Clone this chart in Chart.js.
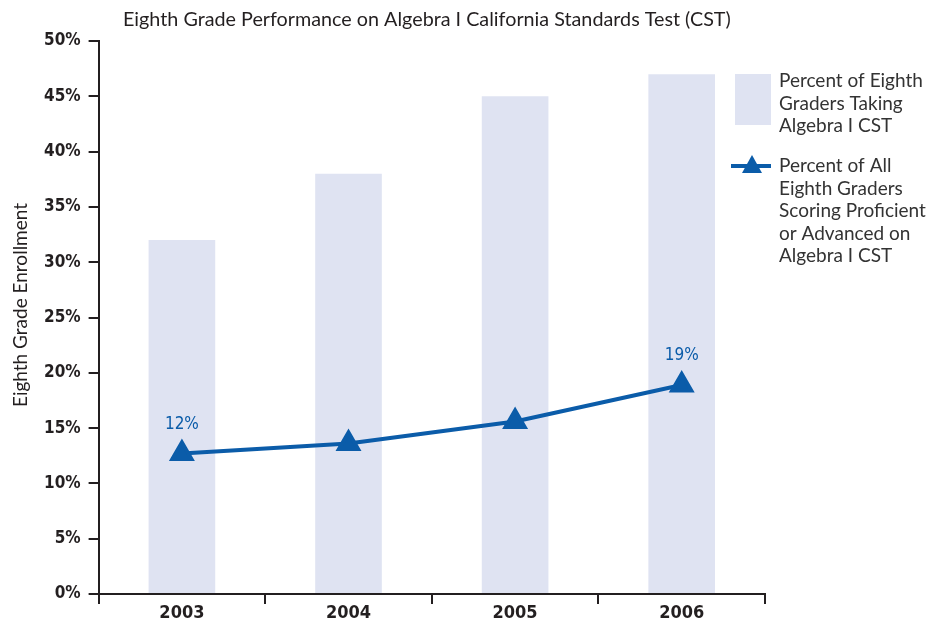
<!DOCTYPE html>
<html><head><meta charset="utf-8">
<script src="https://cdn.jsdelivr.net/npm/chart.js@4/dist/chart.umd.min.js"></script>
<style>html,body{margin:0;padding:0;background:#fff}#wrap{width:945px;height:622px;position:relative}</style>
</head><body><div id="wrap"><canvas id="c" width="945" height="622"></canvas></div>
<script>
const categories = ['2003','2004','2005','2006'];
const takingValues = [32, 38, 45, 47];
const proficientValues = [12.7, 13.6, 15.6, 18.9];
const pointLabels = ['12%', '', '', '19%'];
const yTicks = [0,5,10,15,20,25,30,35,40,45,50];
const titleText = 'Eighth Grade Performance on Algebra I California Standards Test (CST)';
const yTitle = 'Eighth Grade Enrollment';
const legendBar = ['Percent of Eighth','Graders Taking','Algebra I CST'];
const legendLine = ['Percent of All','Eighth Graders','Scoring Proficient','or Advanced on','Algebra I CST'];

const BAR = '#dfe3f2', LINE = '#0b5ca9', INK = '#231f20';
const humanist = '"Lato", "Open Sans", sans-serif';
const narrow = '"Liberation Sans Narrow", "DejaVu Sans Condensed", "Roboto Condensed", sans-serif';

function fitFont(ctx, text, width, family, weight) {
  let size = 10;
  for (let s = 10; s <= 30; s += 0.25) {
    ctx.font = (weight || '') + ' ' + s + 'px ' + family;
    if (ctx.measureText(text).width <= width) size = s; else break;
  }
  ctx.font = (weight || '') + ' ' + size + 'px ' + family;
  return size;
}

const extras = {
  id: 'extras',
  afterDraw(chart) {
    const ctx = chart.ctx;
    ctx.save();
    // title
    ctx.fillStyle = INK;
    fitFont(ctx, titleText, 615, humanist);
    ctx.textAlign = 'left'; ctx.textBaseline = 'middle';
    ctx.fillText(titleText, 123, 20);
    // y title
    ctx.save();
    ctx.translate(21, 305);
    ctx.rotate(-Math.PI/2);
    ctx.textAlign = 'center';
    fitFont(ctx, yTitle, 205, humanist);
    ctx.fillText(yTitle, 0, 0);
    ctx.restore();
    // point labels
    const meta = chart.getDatasetMeta(1);
    ctx.fillStyle = LINE;
    ctx.font = '17px ' + narrow;
    ctx.textAlign = 'center';
    meta.data.forEach((pt, i) => {
      if (pointLabels[i]) ctx.fillText(pointLabels[i], pt.x, pt.y - 29);
    });
    // legend
    ctx.fillStyle = BAR;
    ctx.fillRect(735, 74, 36, 51);
    ctx.fillStyle = '#333';
    fitFont(ctx, legendBar[0], 144, humanist);
    ctx.textAlign = 'left';
    legendBar.forEach((t, i) => ctx.fillText(t, 779, 81 + i*22.5));
    ctx.strokeStyle = LINE; ctx.lineWidth = 4;
    ctx.beginPath(); ctx.moveTo(731, 166); ctx.lineTo(771, 166); ctx.stroke();
    ctx.fillStyle = LINE;
    ctx.beginPath(); ctx.moveTo(752, 155); ctx.lineTo(762, 173); ctx.lineTo(742, 173); ctx.closePath(); ctx.fill();
    ctx.fillStyle = '#333';
    legendLine.forEach((t, i) => ctx.fillText(t, 779, 166 + i*22.5));
    ctx.restore();
  }
};

new Chart(document.getElementById('c'), {
  data: {
    labels: categories,
    datasets: [
      { type: 'bar', label: legendBar.join(' '), data: takingValues, backgroundColor: BAR,
        barPercentage: 0.4, categoryPercentage: 1.0, order: 2 },
      { type: 'line', label: legendLine.join(' '), data: proficientValues, borderColor: LINE,
        backgroundColor: LINE, borderWidth: 4, pointStyle: 'triangle', pointRadius: 11,
        pointHoverRadius: 11, tension: 0, order: 1 }
    ]
  },
  options: {
    responsive: false, animation: false,
    layout: { padding: { left: 36, right: 180, top: 41, bottom: 0 } },
    plugins: { legend: { display: false }, tooltip: { enabled: false } },
    scales: {
      x: {
        offset: true,
        grid: { display: true, drawOnChartArea: false, offset: true, tickLength: 10, color: INK, lineWidth: 2 },
        border: { display: true, color: INK, width: 2 },
        ticks: { color: INK, font: { family: narrow, size: 18, weight: 'bold', lineHeight: 1.0 }, padding: 0 }
      },
      y: {
        min: 0, max: 50, afterBuildTicks: (s) => { s.ticks = yTicks.map(v => ({ value: v })); },
        grid: { display: true, drawOnChartArea: false, tickLength: 10, color: INK, lineWidth: 2 },
        border: { display: true, color: INK, width: 2 },
        ticks: { color: INK, font: { family: narrow, size: 17, weight: 'bold' }, padding: 8,
                 callback: (v) => v + '%' }
      }
    }
  },
  plugins: [extras]
});
</script></body></html>
